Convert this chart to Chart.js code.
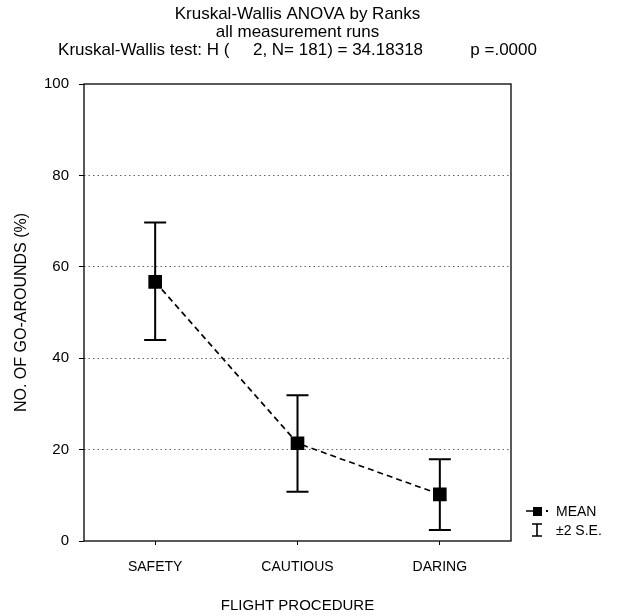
<!DOCTYPE html>
<html>
<head>
<meta charset="utf-8">
<script src="https://cdn.jsdelivr.net/npm/chart.js@4.4.1/dist/chart.umd.min.js"></script>
<style>
  html, body { margin: 0; padding: 0; background: #fff; }
  #wrap { width: 617px; height: 616px; position: relative; }
</style>
</head>
<body>
<div id="wrap"><canvas id="chart"></canvas></div>
<script>
const categories = ['SAFETY', 'CAUTIOUS', 'DARING'];
const meanValues = [56.7, 21.4, 10.2];
const upperValues = [69.7, 31.9, 17.9];
const lowerValues = [44.0, 10.8, 2.4];
const yTicks = [0, 20, 40, 60, 80, 100];
const titleLines = [
  'Kruskal-Wallis ANOVA by Ranks',
  'all measurement runs',
  'Kruskal-Wallis test: H (     2, N= 181) = 34.18318          p =.0000'
];

const FONT = '"Liberation Sans", Arial, sans-serif';

// whiskers, frame, title and legend
const extras = {
  id: 'extras',
  beforeDatasetsDraw(chart) {
    const { ctx, scales: { x, y } } = chart;
    ctx.save();
    ctx.strokeStyle = '#000';
    ctx.lineWidth = 2;
    categories.forEach((c, i) => {
      const px = x.getPixelForValue(i);
      const top = y.getPixelForValue(upperValues[i]);
      const bot = y.getPixelForValue(lowerValues[i]);
      ctx.beginPath();
      ctx.moveTo(px, top); ctx.lineTo(px, bot);
      ctx.moveTo(px - 11, top); ctx.lineTo(px + 11, top);
      ctx.moveTo(px - 11, bot); ctx.lineTo(px + 11, bot);
      ctx.stroke();
    });
    ctx.restore();
  },
  afterDraw(chart) {
    const { ctx, chartArea: a } = chart;
    ctx.save();
    ctx.strokeStyle = '#000';
    ctx.lineWidth = 1.3;
    ctx.strokeRect(a.left, a.top, a.right - a.left, a.bottom - a.top);

    ctx.fillStyle = '#000';
    ctx.font = '17px ' + FONT;
    ctx.textAlign = 'center';
    ctx.textBaseline = 'middle';
    const cx = (a.left + a.right) / 2;
    titleLines.forEach((t, i) => ctx.fillText(t, cx, 14 + i * 18));

    // legend
    ctx.font = '14px ' + FONT;
    ctx.lineWidth = 1.5;
    ctx.beginPath();
    ctx.moveTo(526, 511); ctx.lineTo(533, 511);
    ctx.stroke();
    ctx.fillRect(533, 507, 9, 9);
    ctx.fillRect(546, 510, 2, 2);
    ctx.textAlign = 'left';
    ctx.fillText('MEAN', 556, 512);
    ctx.lineWidth = 1.6;
    ctx.beginPath();
    ctx.moveTo(537, 524); ctx.lineTo(537, 536);
    ctx.moveTo(532, 524); ctx.lineTo(542, 524);
    ctx.moveTo(532, 536); ctx.lineTo(542, 536);
    ctx.stroke();
    ctx.fillText('\u00b12 S.E.', 556, 531);
    ctx.restore();
  }
};

new Chart(document.getElementById('chart'), {
  type: 'line',
  data: {
    labels: categories,
    datasets: [{
      label: 'MEAN',
      data: meanValues,
      borderColor: '#000',
      backgroundColor: '#000',
      borderWidth: 1.6,
      borderDash: [6, 4],
      pointStyle: 'rect',
      pointRadius: 8.5,
      pointHoverRadius: 8.5,
      tension: 0
    }]
  },
  options: {
    responsive: true,
    maintainAspectRatio: false,
    animation: false,
    layout: { padding: { left: 0, top: 84, right: 106, bottom: 0 } },
    plugins: {
      legend: { display: false },
      tooltip: { enabled: false }
    },
    scales: {
      x: {
        type: 'category',
        offset: true,
        border: { display: false },
        grid: { drawOnChartArea: false, drawTicks: true, tickLength: 4, tickColor: '#000', offset: false },
        ticks: { color: '#000', padding: 14, font: { family: FONT, size: 14 } },
        title: { display: true, text: 'FLIGHT PROCEDURE', color: '#000', padding: { top: 0, bottom: 1 }, font: { family: FONT, size: 15 } },
        afterFit: s => { s.height = 75; }
      },
      y: {
        min: 0,
        max: 100,
        afterBuildTicks: s => { s.ticks = yTicks.map(v => ({ value: v })); },
        border: { display: false, dash: [1.5, 3] },
        grid: {
          color: ctx => (ctx.tick && (ctx.tick.value === 0 || ctx.tick.value === 100)) ? 'rgba(0,0,0,0)' : '#666',
          tickColor: '#000',
          lineWidth: 1,
          tickLength: 5
        },
        ticks: { color: '#000', padding: 10, font: { family: FONT, size: 15 } },
        title: { display: true, text: 'NO. OF GO-AROUNDS (%)', color: '#000', padding: { top: 12, bottom: 0 }, font: { family: FONT, size: 16 } },
        afterFit: s => { s.width = 84; }
      }
    }
  },
  plugins: [extras]
});
</script>
</body>
</html>
